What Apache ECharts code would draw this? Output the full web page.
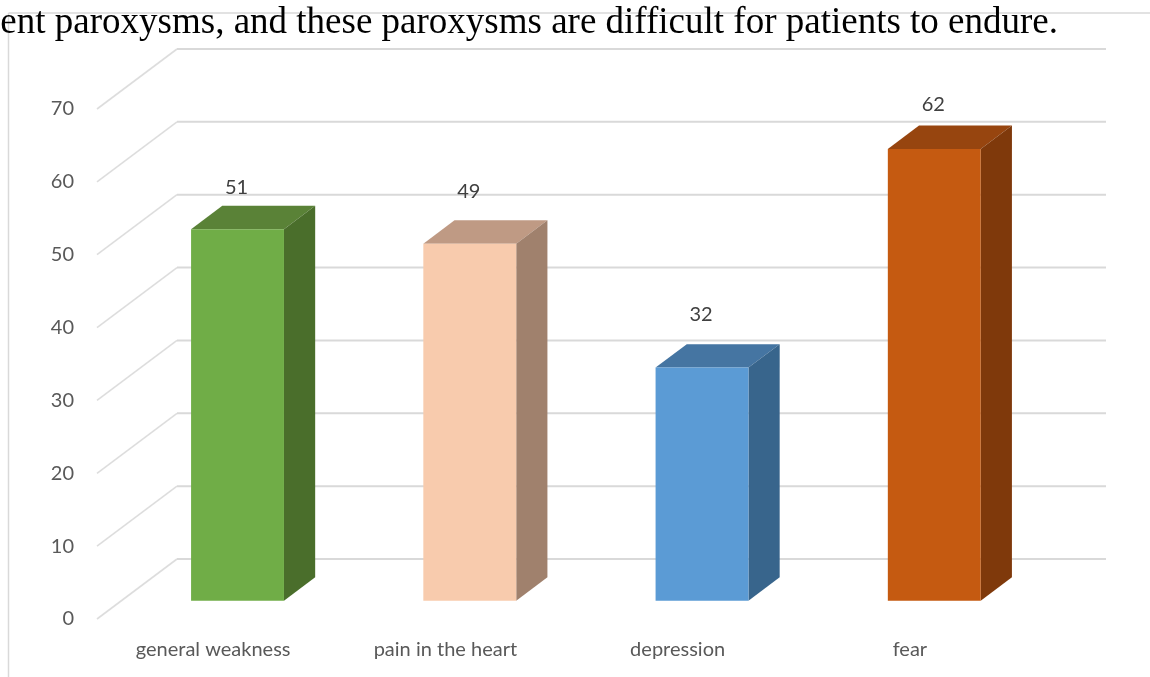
<!DOCTYPE html>
<html>
<head>
<meta charset="utf-8">
<style>html,body{margin:0;padding:0;background:#fff}#chart{width:1150px;height:677px}</style>
<script src="https://cdn.jsdelivr.net/npm/echarts@6/dist/echarts.min.js"></script>
</head>
<body>
<div id="chart"></div>
<script>
// Symptom counts shown as pseudo-3D columns
const categories = ['general weakness', 'pain in the heart', 'depression', 'fear'];
const counts = [51, 49, 32, 62];
const gridTicks = [0, 10, 20, 30, 40, 50, 60, 70];
const faceColors = ['#70AD47', '#F8CBAD', '#5B9BD5', '#C55A11'];
const topColors = ['#5A8237', '#BF9A84', '#4575A2', '#97450F'];
const sideColors = ['#4A6E2B', '#A0816D', '#38658C', '#7F390B'];
const labelLift = [18, 29, 30, 21];
const bodyLine = 'ent paroxysms, and these paroxysms are difficult for patients to endure.';

// Oblique projection of the depth axis
const DEPTH = [80, -60];
const BAR_START = 0.305;
const BAR_END = 0.695;
const LABEL_FONT = 'Lato, "Open Sans", sans-serif';

const chart = echarts.init(document.getElementById('chart'));

function wallItem(params, api) {
  const grid = params.coordSys;
  const p = api.coord([0, api.value(0)]);
  const y = p[1];
  const left = grid.x;
  const right = grid.x + grid.width;
  return {
    type: 'group',
    children: [
      { type: 'line', shape: { x1: left, y1: y, x2: left + DEPTH[0], y2: y + DEPTH[1] },
        style: { stroke: '#DDDDDD', lineWidth: 1.6 } },
      { type: 'line', shape: { x1: left + DEPTH[0], y1: y + DEPTH[1], x2: right + DEPTH[0], y2: y + DEPTH[1] },
        style: { stroke: '#D9D9D9', lineWidth: 2 } }
    ]
  };
}

function barItem(params, api) {
  const i = api.value(0);
  const v = api.value(1);
  const top = api.coord([i, v]);
  const base = api.coord([i, 0]);
  const w = api.size([1, 0])[0] * 0.4;
  const fx = top[0] - w / 2 + DEPTH[0] * BAR_START;
  const sx = DEPTH[1] * BAR_START;
  const ty = top[1] + sx;
  const by = base[1] + sx;
  const dx = DEPTH[0] * (BAR_END - BAR_START);
  const dy = DEPTH[1] * (BAR_END - BAR_START);
  const fr = fx + w;
  return {
    type: 'group',
    children: [
      { type: 'polygon', shape: { points: [[fx, ty], [fr, ty], [fr + dx, ty + dy], [fx + dx, ty + dy]] },
        style: { fill: topColors[i] } },
      { type: 'polygon', shape: { points: [[fr, ty], [fr + dx, ty + dy], [fr + dx, by + dy], [fr, by]] },
        style: { fill: sideColors[i] } },
      { type: 'rect', shape: { x: fx, y: ty, width: w, height: by - ty },
        style: { fill: faceColors[i] } },
      { type: 'text',
        style: { x: fx + w / 2 - 1, y: ty + dy - labelLift[i], text: String(v), align: 'center', verticalAlign: 'middle',
          fill: '#404040', font: '400 20px ' + LABEL_FONT } }
    ]
  };
}

chart.setOption({
  animation: false,
  backgroundColor: '#fff',
  grid: { left: 97, right: 124, top: 109, bottom: 58, containLabel: false },
  xAxis: {
    type: 'category',
    data: categories,
    axisLine: { show: false },
    axisTick: { show: false },
    splitLine: { show: false },
    axisLabel: { color: '#595959', fontSize: 20, fontFamily: LABEL_FONT, margin: 21 }
  },
  yAxis: {
    type: 'value',
    min: 0,
    max: 70,
    interval: 10,
    axisLine: { show: false },
    axisTick: { show: false },
    splitLine: { show: false },
    axisLabel: { color: '#595959', fontSize: 20, fontFamily: LABEL_FONT, margin: 23 }
  },
  graphic: [
    { type: 'line', silent: true, shape: { x1: 8.5, y1: 13, x2: 1150, y2: 13 }, style: { stroke: '#D9D9D9', lineWidth: 1.5 } },
    { type: 'line', silent: true, shape: { x1: 8.5, y1: 13, x2: 8.5, y2: 677 }, style: { stroke: '#D9D9D9', lineWidth: 1.5 } },
    { type: 'text', silent: true, x: 1058, y: 5,
      style: { text: bodyLine, align: 'right', verticalAlign: 'alphabetic', fill: '#000', font: '37px "Liberation Serif", serif' } }
  ],
  series: [
    { type: 'custom', name: 'walls', coordinateSystem: 'cartesian2d', silent: true, z: 1,
      renderItem: wallItem, encode: { y: 0 }, data: gridTicks.map(t => [t]) },
    { type: 'custom', name: 'cases', coordinateSystem: 'cartesian2d', silent: true, z: 2,
      renderItem: barItem, encode: { x: 0, y: 1 }, data: counts.map((v, i) => [i, v]) }
  ]
});
</script>
</body>
</html>
